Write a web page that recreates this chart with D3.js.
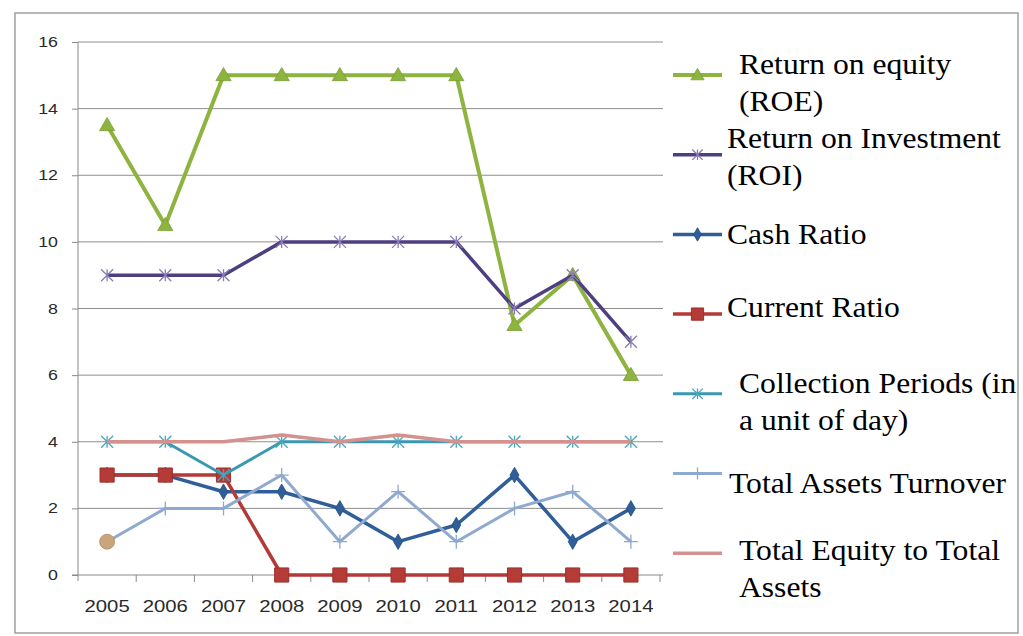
<!DOCTYPE html>
<html>
<head>
<meta charset="utf-8">
<script src="https://cdn.jsdelivr.net/npm/d3@7"></script>
<style>
  body { margin: 0; background: #fff; }
  svg { display: block; }
</style>
</head>
<body>
<svg id="chart" width="1023" height="636"></svg>
<script>
// Data
var years = ["2005", "2006", "2007", "2008", "2009", "2010", "2011", "2012", "2013", "2014"];
var roe = [13.5, 10.5, 15, 15, 15, 15, 15, 7.5, 9, 6];
var roi = [9, 9, 9, 10, 10, 10, 10, 8, 9, 7];
var cashRatio = [3, 3, 2.5, 2.5, 2, 1, 1.5, 3, 1, 2];
var currentRatio = [3, 3, 3, 0, 0, 0, 0, 0, 0, 0];
var collectionPeriods = [4, 4, 3, 4, 4, 4, 4, 4, 4, 4];
var assetsTurnover = [1, 2, 2, 3, 1, 2.5, 1, 2, 2.5, 1];
var equityToAssets = [4, 4, 4, 4.2, 4, 4.2, 4, 4, 4, 4];
var yTicks = [0, 2, 4, 6, 8, 10, 12, 14, 16];
var legendLabels = [
    ["Return on equity", "(ROE)"],
    ["Return on Investment", "(ROI)"],
    ["Cash Ratio"],
    ["Current Ratio"],
    ["Collection Periods (in", "a unit of day)"],
    ["Total Assets Turnover"],
    ["Total Equity to Total", "Assets"]
];

// Styles
var style = {
    left: 78, right: 660, top: 42, bottom: 575,
    gridColor: "#8e8e8e",
    axisColor: "#8a8a8a",
    tickFont: "'Liberation Sans', Arial, sans-serif",
    legendFont: "'Liberation Serif', 'Times New Roman', serif"
};

var series = [
    { values: roe, color: "#8db43f", width: 4, marker: "triangle", mfill: "#8db43f" },
    { values: roi, color: "#4e3f80", width: 3.5, marker: "star", mfill: "#8a7cb4" },
    { values: cashRatio, color: "#2f5e99", width: 3.5, marker: "diamond", mfill: "#2f5e99" },
    { values: currentRatio, color: "#b33a36", width: 3.5, marker: "square", mfill: "#b53b37" },
    { values: collectionPeriods, color: "#3a99b1", width: 3, marker: "star", mfill: "#4aa6bd" },
    { values: assetsTurnover, color: "#90a9cf", width: 3, marker: "plus", mfill: "#8ea8d0" },
    { values: equityToAssets, color: "#d4918e", width: 3.5, marker: null, mfill: null }
];

// legend text placement (first baseline, x)
var legendText = [
    { x: 739, y: 74 }, { x: 727, y: 148 }, { x: 727, y: 244 }, { x: 727, y: 317 },
    { x: 739, y: 393 }, { x: 729, y: 493 }, { x: 739, y: 560 }
];

var svg = d3.select("#chart");

// outer frame
svg.append("rect")
    .attr("x", 15).attr("y", 13)
    .attr("width", 1003).attr("height", 620)
    .attr("fill", "none")
    .attr("stroke", "#a0a0a0")
    .attr("stroke-width", 1.5);

var x = d3.scaleBand().domain(years).range([style.left, style.right]).padding(0);
var y = d3.scaleLinear().domain([0, 16]).range([style.bottom, style.top]);
var cx = function(d, i) { return x(years[i]) + x.bandwidth() / 2; };

// gridlines
svg.append("g").selectAll("line")
    .data(yTicks.filter(function(t) { return t > 0; }))
    .join("line")
    .attr("x1", style.left).attr("x2", style.right + 3)
    .attr("y1", function(d) { return y(d); }).attr("y2", function(d) { return y(d); })
    .attr("stroke", style.gridColor)
    .attr("stroke-width", 1);

// y axis
var yAxis = svg.append("g").attr("transform", "translate(" + style.left + ",0)")
    .call(d3.axisLeft(y).tickValues(yTicks).tickSize(6).tickFormat(""));
yAxis.select(".domain").attr("stroke", style.axisColor).attr("d", "M0," + (style.top) + "V" + (style.bottom + 6));
yAxis.selectAll(".tick line").attr("stroke", style.axisColor);

svg.append("g").selectAll("text")
    .data(yTicks)
    .join("text")
    .attr("transform", function(d) { return "translate(58," + y(d) + ") scale(1.27,1)"; })
    .attr("text-anchor", "end")
    .attr("dy", "0.36em")
    .attr("font-family", style.tickFont)
    .attr("font-size", 14)
    .attr("fill", "#2a2a2a")
    .text(function(d) { return d; });

// x axis
var xAxis = svg.append("g").attr("transform", "translate(0," + style.bottom + ")")
    .call(d3.axisBottom(x).tickSize(0).tickFormat(""));
xAxis.select(".domain").attr("stroke", style.axisColor).attr("d", "M" + (style.left - 6) + ",0H" + (style.right + 3));
svg.append("g").selectAll("line")
    .data(years)
    .join("line")
    .attr("x1", function(d) { return x(d) + x.bandwidth(); })
    .attr("x2", function(d) { return x(d) + x.bandwidth(); })
    .attr("y1", style.bottom).attr("y2", style.bottom + 7)
    .attr("stroke", style.axisColor);

svg.append("g").selectAll("text")
    .data(years)
    .join("text")
    .attr("transform", function(d) { return "translate(" + (x(d) + x.bandwidth() / 2) + ",612) scale(1.27,1)"; })
    .attr("text-anchor", "middle")
    .attr("font-family", style.tickFont)
    .attr("font-size", 16)
    .attr("fill", "#2a2a2a")
    .text(function(d) { return d; });

// marker drawing
function drawMarker(g, type, color, px, py, scale) {
    scale = scale || 1;
    if (type === "triangle") {
        g.append("path").attr("d", d3.symbol(d3.symbolTriangle, 100 * scale)())
            .attr("transform", "translate(" + px + "," + (py + 1) + ")")
            .attr("fill", color).attr("stroke", "#7a9e35").attr("stroke-width", 0.8);
    } else if (type === "diamond") {
        g.append("path").attr("d", d3.symbol(d3.symbolDiamond, 70 * scale)())
            .attr("transform", "translate(" + px + "," + py + ")")
            .attr("fill", color).attr("stroke", "#24507f").attr("stroke-width", 0.8);
    } else if (type === "square") {
        g.append("path").attr("d", d3.symbol(d3.symbolSquare, 200 * scale)())
            .attr("transform", "translate(" + px + "," + py + ")")
            .attr("fill", color).attr("stroke", "#9c2f2c").attr("stroke-width", 1);
    } else if (type === "star") {
        var s = 6 * Math.sqrt(scale);
        g.append("path")
            .attr("d", "M" + (-s) + "," + (-s) + "L" + s + "," + s + "M" + (-s) + "," + s + "L" + s + "," + (-s) + "M0," + (-s) + "V" + s)
            .attr("transform", "translate(" + px + "," + py + ")")
            .attr("fill", "none").attr("stroke", color).attr("stroke-width", 1.3);
    } else if (type === "plus") {
        var p = 7 * Math.sqrt(scale);
        g.append("path")
            .attr("d", "M" + (-p) + ",0H" + p + "M0," + (-p) + "V" + p)
            .attr("transform", "translate(" + px + "," + py + ")")
            .attr("fill", "none").attr("stroke", color).attr("stroke-width", 1.3);
    } else if (type === "circle") {
        g.append("circle").attr("cx", px).attr("cy", py).attr("r", 7.5 * Math.sqrt(scale))
            .attr("fill", color).attr("stroke", "#b08c62").attr("stroke-width", 0.8);
    }
}

var line = d3.line()
    .x(cx)
    .y(function(d) { return y(d); });

var plot = svg.append("g");
series.forEach(function(s, si) {
    var g = plot.append("g");
    g.append("path")
        .datum(s.values)
        .attr("d", line)
        .attr("fill", "none")
        .attr("stroke", s.color)
        .attr("stroke-width", s.width)
        .attr("stroke-linejoin", "round");
    if (s.marker) {
        s.values.forEach(function(v, i) {
            // first point of turnover series shows a round marker in the picture
            var type = (s.values === assetsTurnover && i === 0) ? "circle" : s.marker;
            var col = type === "circle" ? "#c9a57b" : s.mfill;
            drawMarker(g, type, col, cx(v, i), y(v));
        });
    }
});

// legend
var legend = svg.append("g");
var legendStep = 79.7;
series.forEach(function(s, i) {
    var my = 75 + i * legendStep;
    legend.append("line")
        .attr("x1", 673).attr("x2", 722)
        .attr("y1", my).attr("y2", my)
        .attr("stroke", s.color).attr("stroke-width", s.width);
    if (s.marker) drawMarker(legend, s.marker, s.mfill, 697.5, my, 0.75);

    var t = legend.append("text")
        .attr("transform", "translate(" + legendText[i].x + "," + legendText[i].y + ") scale(1.09,1)")
        .attr("font-family", style.legendFont)
        .attr("font-size", 29)
        .attr("fill", "#000");
    legendLabels[i].forEach(function(str, k) {
        t.append("tspan").attr("x", 0).attr("dy", k === 0 ? 0 : 37).text(str);
    });
});
</script>
</body>
</html>
